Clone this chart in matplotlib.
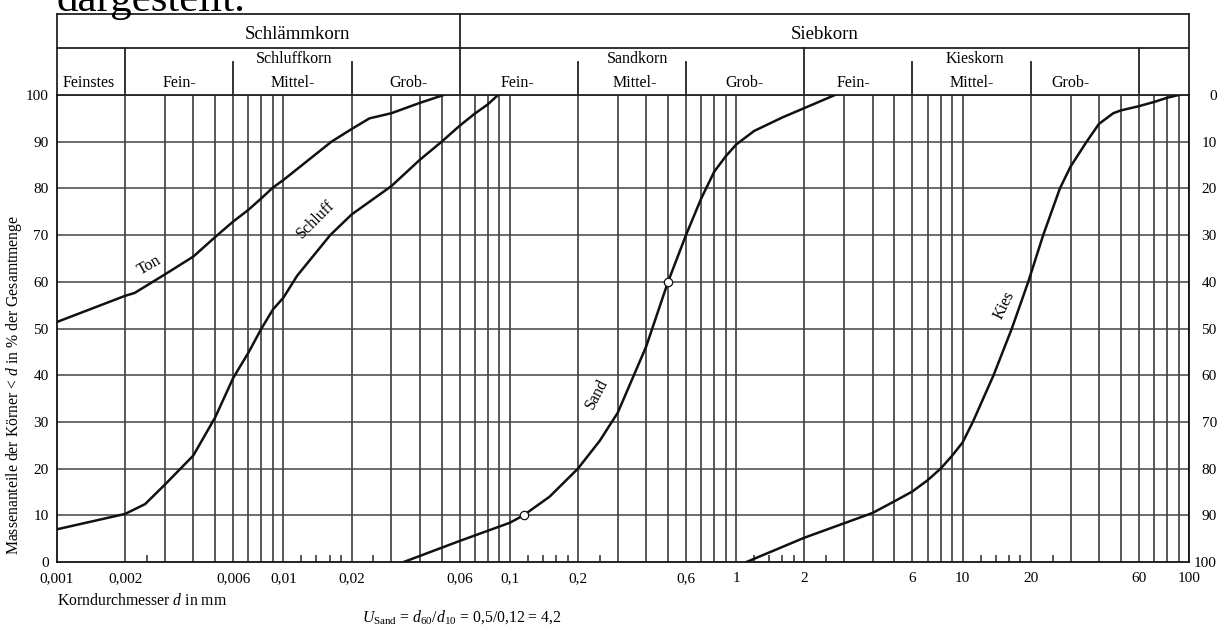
import matplotlib
matplotlib.use("Agg")
import matplotlib.pyplot as plt
from matplotlib.ticker import NullLocator

plt.rcParams['font.family'] = 'Liberation Serif'
plt.rcParams['mathtext.fontset'] = 'custom'
plt.rcParams['mathtext.rm'] = 'Liberation Serif'
plt.rcParams['mathtext.it'] = 'Liberation Serif:italic'

# grain size distribution curves (d in mm, passing in %)
ton_d = [0.001, 0.002, 0.0022, 0.003, 0.004, 0.005, 0.006, 0.007, 0.008, 0.009,
         0.01, 0.0163, 0.02, 0.024, 0.03, 0.04, 0.051]
ton_p = [51.4, 57.0, 57.6, 61.6, 65.4, 69.6, 72.9, 75.4, 77.9, 80.2,
         81.8, 90.0, 92.7, 95.0, 96.1, 98.3, 100]

schluff_d = [0.001, 0.002, 0.00245, 0.003, 0.004, 0.005, 0.006, 0.007, 0.008, 0.009,
             0.01, 0.0115, 0.0161, 0.02, 0.03, 0.04, 0.05, 0.06, 0.07, 0.08, 0.0887]
schluff_p = [7.0, 10.3, 12.4, 16.6, 22.8, 31.0, 39.4, 44.8, 50.0, 54.1,
             56.6, 61.3, 70.0, 74.4, 80.5, 86.1, 90.0, 93.4, 96.0, 98.0, 100]

sand_d = [0.034, 0.06, 0.1, 0.115, 0.15, 0.2, 0.25, 0.3, 0.4, 0.5, 0.6, 0.7,
          0.8, 0.9, 1.0, 1.2, 1.6, 2.0, 2.73]
sand_p = [0, 4.5, 8.4, 10, 14, 20, 26, 32, 46.1, 60, 70, 77.8,
          83.6, 86.9, 89.4, 92.3, 95.2, 97.2, 100]

kies_d = [1.11, 2, 3, 4, 5, 6, 7, 8, 9, 10, 11.1, 13.7, 16.5, 19.5, 22.7, 26.9,
          30, 35.3, 40, 46.3, 50, 60, 70, 80, 90]
kies_p = [0, 5.2, 8.3, 10.5, 13.0, 15.1, 17.5, 20, 22.8, 25.6, 30, 40, 50, 60, 70, 80,
          84.7, 90, 93.8, 96.1, 96.7, 97.6, 98.5, 99.4, 100]

# d60 / d10 of the sand
marker_d = [0.115, 0.5]
marker_p = [10, 60]

xtick_vals = [0.001, 0.002, 0.006, 0.01, 0.02, 0.06, 0.1, 0.2, 0.6, 1, 2, 6, 10, 20, 60, 100]
xtick_labels = ['0,001', '0,002', '0,006', '0,01', '0,02', '0,06', '0,1', '0,2', '0,6',
                '1', '2', '6', '10', '20', '60', '100']
ytick_vals = [0, 10, 20, 30, 40, 50, 60, 70, 80, 90, 100]

decades = [0.001, 0.01, 0.1, 1, 10]
full_dividers = [0.002, 2, 60]
short_dividers = [0.006, 0.02, 0.2, 0.6, 6, 20]
main_divider = 0.06

W, H = 1222, 630
fig = plt.figure(figsize=(W / 100, H / 100), dpi=100)
ax = fig.add_axes([57 / W, 1 - 562 / H, (1189 - 57) / W, (562 - 95) / H])
ax.set_xscale('log')
ax.set_xlim(0.001, 100)
ax.set_ylim(0, 100)

LC = '#2a2a2a'
# grid
for dec in decades:
    for k in range(2, 11):
        ax.axvline(dec * k, color=LC, lw=1.1, zorder=1)
    ax.vlines(dec * 2.5, 0, 1.5, color=LC, lw=1.1)
    if dec >= 0.01:
        ax.vlines([dec * 1.2, dec * 1.4, dec * 1.6, dec * 1.8], 0, 1.5, color=LC, lw=1.1)
for v in ytick_vals[1:]:
    ax.axhline(v, color='#444444', lw=1.1, zorder=1)

for s in ['left', 'bottom', 'right']:
    ax.spines[s].set_linewidth(1.3)
    ax.spines[s].set_color('#111111')
ax.spines['top'].set_visible(False)

# curves
for d, p in [(ton_d, ton_p), (schluff_d, schluff_p), (sand_d, sand_p), (kies_d, kies_p)]:
    ax.plot(d, p, color='#111111', lw=1.8, zorder=3, solid_joinstyle='round')
ax.plot(marker_d, marker_p, 'o', ms=6, mfc='white', mec='#111111', mew=0.9, zorder=4)

ax.xaxis.set_minor_locator(NullLocator())
ax.set_xticks(xtick_vals, xtick_labels)
ax.set_yticks(ytick_vals, [str(v) for v in ytick_vals])
ax.tick_params(axis='x', length=0, pad=7, labelsize=11)
ax.tick_params(axis='y', length=0, pad=6, labelsize=11)

ax2 = ax.twinx()
ax2.set_ylim(0, 100)
ax2.set_yticks(ytick_vals, [str(100 - v) for v in ytick_vals])
ax2.tick_params(axis='y', length=0, pad=20, labelsize=11)
for t in ax2.get_yticklabels():
    t.set_horizontalalignment('right')
for s in ax2.spines.values():
    s.set_visible(False)

# header box (in data units above 100)
y_top, y_mid, y_short = 117.34, 110.06, 107.07
hk = dict(color='#222222', lw=1.3, clip_on=False)
ax.plot([0.001, 100], [y_top, y_top], **hk)
ax.plot([0.001, 100], [y_mid, y_mid], **hk)
ax.plot([0.001, 100], [100, 100], **hk)
ax.plot([0.001, 0.001], [100, y_top], **hk)
ax.plot([100, 100], [100, y_top], **hk)
ax.plot([main_divider, main_divider], [100, y_top], **hk)
for x in full_dividers:
    ax.plot([x, x], [100, y_mid], **hk)
for x in short_dividers:
    ax.plot([x, x], [100, y_short], **hk)


def ftext(px, py, s, **kw):
    fig.text(px / W, 1 - py / H, s, **kw)


ftext(297, 39, 'Schlämmkorn', ha='center', va='baseline', fontsize=13.5)
ftext(825, 39, 'Siebkorn', ha='center', va='baseline', fontsize=13.5)
row2 = [(294, 'Schluffkorn'), (638, 'Sandkorn'), (975, 'Kieskorn')]
for px, s in row2:
    ftext(px, 63, s, ha='center', va='baseline', fontsize=11.5)
row3 = [(89, 'Feinstes'), (179, 'Fein-'), (293, 'Mittel-'), (408, 'Grob-'),
        (517, 'Fein-'), (635, 'Mittel-'), (744, 'Grob-'),
        (853, 'Fein-'), (972, 'Mittel-'), (1071, 'Grob-')]
for px, s in row3:
    ftext(px, 87, s, ha='center', va='baseline', fontsize=11.5)

# curve labels
ftext(149, 265, 'Ton', ha='center', va='center', rotation=30, fontsize=11.5)
ftext(316, 220, 'Schluff', ha='center', va='center', rotation=45, fontsize=11.5)
ftext(597, 394, 'Sand', ha='center', va='center', rotation=62, fontsize=11.5)
ftext(1004, 305, 'Kies', ha='center', va='center', rotation=64, fontsize=11.5)

ftext(14, 385, 'Massenanteile der Körner < $d$ in % der Gesamtmenge',
      rotation=90, ha='center', va='center', fontsize=11.3)
ftext(57, 605, 'Korndurchmesser $d$ in mm', ha='left', va='baseline', fontsize=11.3)
ftext(362, 622, r'$U_{\mathrm{Sand}}$ = $d_{60}/d_{10}$ = 0,5/0,12 = 4,2',
      ha='left', va='baseline', fontsize=11.3)
ftext(57, 11, 'dargestellt.', ha='left', va='baseline', fontsize=31)

fig.savefig('out.png', dpi=100)
